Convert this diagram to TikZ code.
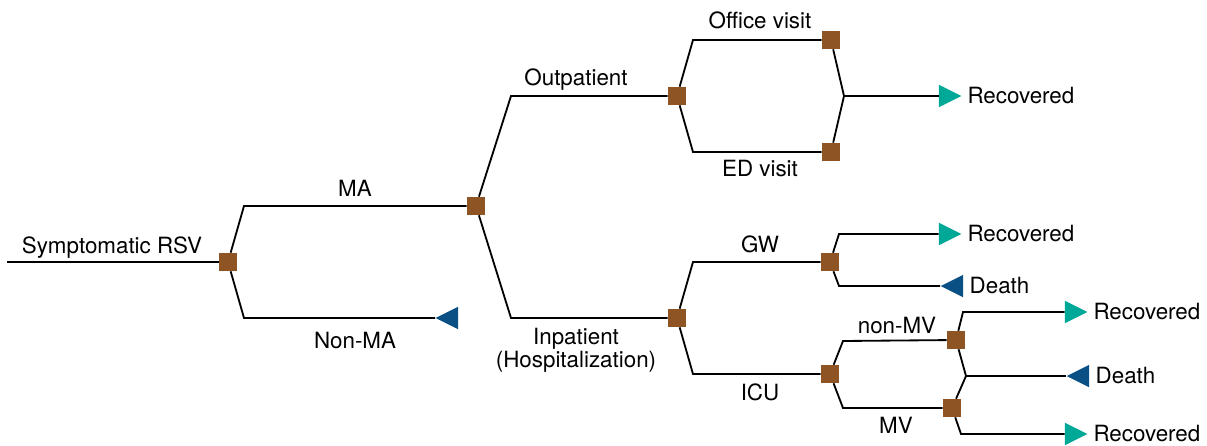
\documentclass[tikz,border=0pt]{standalone}
\usepackage{fontspec}
\setmainfont{TeX Gyre Heros}
\usepackage{xcolor}
\usetikzlibrary{shapes.geometric, positioning}
\definecolor{chancebrown}{RGB}{142,84,36}
\definecolor{recteal}{RGB}{0,168,152}
\definecolor{deathblue}{RGB}{10,80,132}
\tikzstyle{chance} = [rectangle, 
minimum size=0.45cm, 
inner sep=0pt, 
fill=chancebrown]
\tikzstyle{recovered} = [isosceles triangle, 
isosceles triangle stretches=true, 
minimum width=0.56cm, 
minimum height=0.56cm, 
inner sep=0pt, 
anchor=apex, 
fill=recteal]
\tikzstyle{death} = [recovered, 
shape border rotate=180, 
fill=deathblue]
\tikzstyle{branch} = [line width=1.3pt, line join=miter]
\tikzstyle{branchlabel} = [anchor=base, inner sep=0pt]
\tikzstyle{outcome} = [inner sep=0pt]

\begin{document}
\begin{tikzpicture}[x=0.025cm, y=-0.025cm, font=\fontsize{15.9pt}{15pt}\selectfont]
\useasboundingbox (0,0) rectangle (1207,446);

\coordinate (start) at (7,262);
\node (symp) [chance] at (228,262) {};
\coordinate (symp-up) at (244,206);
\coordinate (symp-dn) at (244,318);
\node (ma) [chance] at (476,206) {};
\node (nonma) [death] at (435,318) {};
\coordinate (ma-up) at (511,96);
\coordinate (ma-dn) at (511,318);
\node (outp) [chance] at (677,96) {};
\node (inp) [chance] at (677,318) {};
% outpatient
\coordinate (outp-up) at (693,40);
\coordinate (outp-dn) at (693,152);
\node (office) [chance] at (831,40) {};
\node (ed) [chance] at (831,152) {};
\coordinate (visit-join) at (844,96);
\node (rec1) [recovered] at (962,96) {};
% inpatient
\coordinate (inp-up) at (693,262);
\coordinate (inp-dn) at (693,374);
\node (gw) [chance] at (830,262) {};
\node (icu) [chance] at (830,374) {};
\coordinate (gw-up) at (839,234);
\coordinate (gw-dn) at (839,286);
\node (rec2) [recovered] at (962,234) {};
\node (death1) [death] at (940,286) {};
\coordinate (icu-up) at (843,341);
\coordinate (icu-dn) at (843,408);
\node (nonmv) [chance] at (956,340) {};
\node (mv) [chance] at (952,408) {};
\coordinate (nonmv-up) at (963,312);
\coordinate (mv-join) at (966,376);
\coordinate (mv-dn) at (961,434);
\node (rec3) [recovered] at (1088,312) {};
\node (death2) [death] at (1066,376) {};
\node (rec4) [recovered] at (1088,434) {};

\draw [branch] (start) -- (symp);
\draw [branch] (symp) -- (symp-up) -- (ma);
\draw [branch] (symp) -- (symp-dn) -- (nonma);
\draw [branch] (ma) -- (ma-up) -- (outp);
\draw [branch] (ma) -- (ma-dn) -- (inp);
\draw [branch] (outp) -- (outp-up) -- (office);
\draw [branch] (outp) -- (outp-dn) -- (ed);
\draw [branch] (office) -- (visit-join) -- (ed);
\draw [branch] (visit-join) -- (rec1);
\draw [branch] (inp) -- (inp-up) -- (gw);
\draw [branch] (inp) -- (inp-dn) -- (icu);
\draw [branch] (gw) -- (gw-up) -- (rec2);
\draw [branch] (gw) -- (gw-dn) -- (death1);
\draw [branch] (icu) -- (icu-up) -- (nonmv);
\draw [branch] (icu) -- (icu-dn) -- (mv);
\draw [branch] (nonmv) -- (nonmv-up) -- (rec3);
\draw [branch] (nonmv) -- (mv-join) -- (mv);
\draw [branch] (mv-join) -- (death2);
\draw [branch] (mv) -- (mv-dn) -- (rec4);

\node (symplabel) [branchlabel] at (112,253) {Symptomatic RSV};
\node (malabel) [branchlabel] at (355,196) {MA};
\node (nonmalabel) [branchlabel] at (355,348) {Non-MA};
\node (outplabel) [branchlabel] at (576,86) {Outpatient};
\node (inplabel) [anchor=north, inner sep=0pt, align=center] at (576,328) {Inpatient\\(Hospitalization)};
\node (officelabel) [branchlabel] at (760,29) {Office visit};
\node (edlabel) [branchlabel] at (760,177) {ED visit};
\node (gwlabel) [branchlabel] at (760,252) {GW};
\node (iculabel) [branchlabel] at (760,400) {ICU};
\node (nonmvlabel) [branchlabel] at (897,333) {non-MV};
\node (mvlabel) [branchlabel] at (896,433) {MV};

\node (rec1text) [outcome, right=0.13cm of rec1] {Recovered};
\node (rec2text) [outcome, right=0.13cm of rec2] {Recovered};
\node (death1text) [outcome, right=0.15cm of death1] {Death};
\node (rec3text) [outcome, right=0.13cm of rec3] {Recovered};
\node (death2text) [outcome, right=0.15cm of death2] {Death};
\node (rec4text) [outcome, right=0.13cm of rec4] {Recovered};

\end{tikzpicture}
\end{document}
